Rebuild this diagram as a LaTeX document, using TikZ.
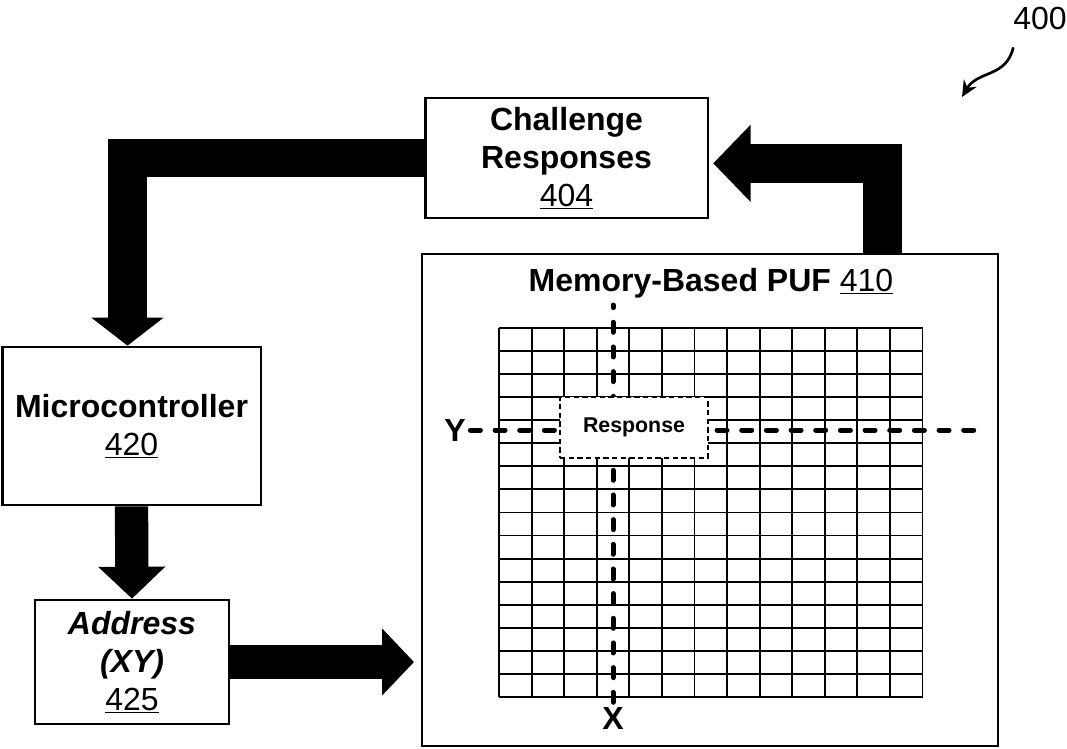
\documentclass[tikz,border=0pt]{standalone}
\usepackage{fontspec}
\setmainfont{Liberation Sans}
\usetikzlibrary{arrows.meta}

\newcommand{\pufsize}{\fontsize{24}{28.5}\selectfont}

\tikzset{
  block/.style={draw, line width=2pt, align=center, inner sep=0pt, font=\pufsize},
  bigarrow/.style={line width=29pt, line join=miter,
    -{Triangle[length=24pt, width=52pt]}},
  cellline/.style={line width=1.4pt},
  dashline/.style={line width=3.75pt, line cap=round, dash pattern=on 7.5pt off 11pt},
}

\begin{document}
\begin{tikzpicture}[x=0.75pt, y=-0.75pt]
        \useasboundingbox (0,0) rectangle (1067,749);

        % the blocks
        \node[block, minimum width=212pt, minimum height=90pt] (cr) at (566.5,158)
            {\textbf{Challenge}\\\textbf{Responses}\\\underline{404}};
        \node[block, minimum width=432pt, minimum height=369pt] (puf) at (710,500) {};
        \node[block, minimum width=194pt, minimum height=118.5pt] (mc) at (131.5,426)
            {\textbf{Microcontroller}\\\underline{420}};
        \node[block, minimum width=145.5pt, minimum height=93pt] (ad) at (132,662)
            {\textbf{\textit{Address}}\\\textbf{\textit{(XY)}}\\\underline{425}};
        \node[font=\pufsize] (puftitle) at (711,283) {\textbf{Memory-Based PUF} \underline{410}};

        % memory cells
        \foreach \i in {0,...,13} {
            \draw[cellline] (499+\i*32.58,328) -- (499+\i*32.58,697);
        }
        \foreach \j in {0,...,16} {
            \draw[cellline] (499,328+\j*23.06) -- (922.5,328+\j*23.06);
        }

        % address lines
        \node[font=\pufsize\bfseries] (xlab) at (613,718) {X};
        \node[font=\pufsize\bfseries] (ylab) at (455,430) {Y};
        \coordinate (xtop) at (613,305);
        \coordinate (yend) at (980,430);
        \draw[dashline] (xlab.north) -- (xtop);
        \draw[dashline] (ylab.east) -- (yend);
        \node[draw, line width=1.5pt, dash pattern=on 4pt off 2.5pt, fill=white,
            minimum width=111pt, minimum height=45.75pt,
            font=\fontsize{16}{19}\selectfont\bfseries] (resp) at (634,427.5) {Response};

        % data flow
        \draw[bigarrow, -{Triangle[length=28pt, width=56pt]}, shorten >=3pt]
            ([xshift=129.4pt]puf.north) |- ([yshift=-4pt]cr.east);
        \draw[bigarrow, -{Triangle[length=21pt, width=53pt]}]
            (cr.west) -| ([xshift=-3pt]mc.north);
        \draw[bigarrow, line width=25pt, -{Triangle[length=24pt, width=49pt]}]
            (mc.south) -- (ad.north);
        \draw[bigarrow, line width=26pt, -{Triangle[length=24pt, width=49pt]}, shorten >=5pt]
            (ad.east) -- (ad.east -| puf.west);

        % figure number
        \node[font=\pufsize] (fig) at (1040,18) {400};
        \coordinate (figend) at (962,97);
        \draw[line width=2pt, -{Stealth[length=12pt, width=11pt]}]
            ([xshift=-20pt, yshift=-10pt]fig.south) .. controls (1006,78) and (978,70) .. (figend);
\end{tikzpicture}
\end{document}
